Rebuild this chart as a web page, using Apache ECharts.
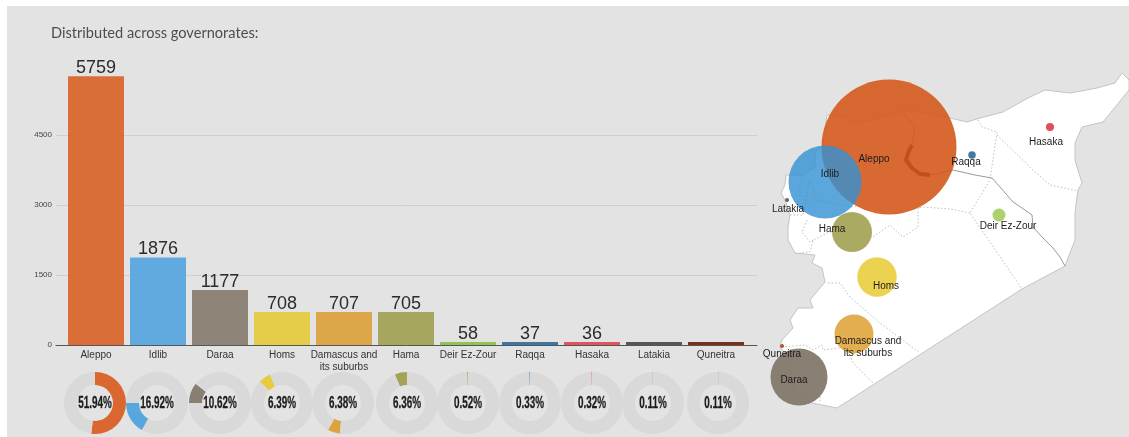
<!DOCTYPE html>
<html><head><meta charset="utf-8">
<style>html,body{margin:0;padding:0;background:#fff}#c{width:1129px;height:437px}</style>
<script src="https://cdn.jsdelivr.net/npm/echarts@6/dist/echarts.min.js"></script>
</head><body><div id="c"></div>
<script>
const categories = ['Aleppo','Idlib','Daraa','Homs','Damascus and\nits suburbs','Hama','Deir Ez-Zour','Raqqa','Hasaka','Latakia','Quneitra'];
const barValues = [5759,1876,1177,708,707,705,58,37,36,12,12];
const barLabelShown = [1,1,1,1,1,1,1,1,1,0,0];
const shares = [51.94,16.92,10.62,6.39,6.38,6.36,0.52,0.33,0.32,0.11,0.11];
const yTicks = {min:0,max:6000,interval:1500};
const colors = ['#d9672f','#58a6de','#897e72','#e6cb40','#dca340','#a3a257','#8fc04a','#356f9e','#de4c58','#4f4f4f','#74260f'];
const sliceStartDeg = [0,209,270,314,186,337,358,358.8,359,359,360];
const donutX = [95,157,220,282,343,407,468,530,592,653,718];
const donutY = 403;

// map, in picture-sized map units
const syriaOutline = [[786,175],[785,185],[781,193],[785,200],[790,215],[788,227],[788,240],[795,253],[815,255],[812,263],[822,268],[825,282],[810,300],[813,308],[798,308],[790,320],[793,328],[782,340],[780,347],[790,360],[793,390],[812,403],[837,408],[1022,289],[1065,266],[1075,240],[1075,213],[1078,190],[1082,183],[1078,170],[1075,160],[1075,143],[1082,127],[1103,122],[1129,90],[1129,80],[1122,73],[1115,83],[1097,88],[1070,93],[1045,90],[1028,98],[1003,112],[980,118],[967,122],[950,118],[937,115],[907,110],[873,120],[850,124],[847,117],[827,115],[823,145],[815,153],[815,167],[803,175]];
const euphrates = [[903,113],[915,127],[912,143],[905,160],[917,172],[932,175],[953,170],[975,175],[992,178],[1000,187],[1013,202],[1022,208],[1032,215],[1033,227],[1043,238],[1053,248],[1060,257],[1065,266]];
const assadLake = [[912,145],[908,153],[906,160],[912,168],[920,174],[930,175]];
const borderA = [[978,120],[982,127],[997,132],[990,180],[970,213],[1022,289]];
const borderB = [[997,135],[1033,170],[1050,185],[1078,191]];
const borderC = [[970,213],[950,209],[923,207],[918,208],[918,227],[903,237],[890,225],[873,237],[850,240],[830,232],[813,240],[810,252],[800,253]];
const borderD = [[807,220],[802,232],[810,242],[813,240]];
const borderE = [[828,283],[840,283],[850,297],[880,323],[920,353]];
const borderF = [[790,215],[803,215],[810,180],[817,200],[837,205],[853,207],[880,203],[903,193],[907,182],[912,172]];
const borderG = [[782,347],[805,345],[813,350],[822,345],[823,350],[847,347],[853,363],[873,383]];
const borderH = [[812,367],[822,362],[820,403]];
const borderI = [[937,123],[935,137],[913,147]];
const borderJ = [[903,193],[920,208]];
const borderK = [[803,175],[799,190],[805,200],[817,200]];
const internalBorders = [borderA,borderB,borderC,borderD,borderE,borderF,borderG,borderH,borderI,borderJ,borderK];

const bubbleNames = ['Aleppo','Idlib','Hama','Homs','Damascus and\nits suburbs','Daraa','Raqqa','Hasaka','Deir Ez-Zour','Latakia','Quneitra'];
const bubbleX = [889,825,852,877,854,799,972,1050,999,787,782];
const bubbleY = [147,182,232,277,334,377,155,127,215,200,346];
const bubbleDiameter = [135,73,40,39.5,39,57,7.5,8,13,4,4];
const bubbleColor = ['rgba(213,89,28,.9)','rgba(50,145,211,.8)','rgba(169,168,95,.98)','rgba(235,210,78,.98)','rgba(226,172,76,.98)','rgba(132,120,108,.95)','#44799f','#df4f5a','#add26c','#666','#a9593a'];
const labelX = [874,830,832,886,868,794,966,1046,1008,788,782];
const labelY = [159,174,229,286,347,380,162,142,226,209,354];

const chart = echarts.init(document.getElementById('c'), null, {renderer:'canvas'});
const fontSans = '"Liberation Sans",Arial,sans-serif';

const series = [
 {type:'bar',xAxisIndex:1,yAxisIndex:1,barWidth:56,barMinHeight:3,z:3,
  data:barValues.map((v,i)=>({value:v,itemStyle:{color:colors[i],opacity:.95},
    label:{show:!!barLabelShown[i]}})),
  label:{position:'top',distance:-1,fontFamily:fontSans,fontSize:18,color:'#222'}},
 {type:'custom',xAxisIndex:2,yAxisIndex:2,z:1,silent:true,clip:false,data:[0],
  renderItem:(p,api)=>({type:'polygon',shape:{points:syriaOutline.map(c=>api.coord(c))},
    style:{fill:'#fff',stroke:'#c4c4c4',lineWidth:1}})},
 {type:'line',xAxisIndex:2,yAxisIndex:2,z:2,symbol:'none',silent:true,data:euphrates,
  lineStyle:{color:'#9a9a9a',width:1}},
 {type:'line',xAxisIndex:2,yAxisIndex:2,z:2,symbol:'none',silent:true,data:assadLake,
  lineStyle:{color:'#111',width:4}},
 ...internalBorders.map(b=>({type:'line',xAxisIndex:2,yAxisIndex:2,z:2,symbol:'none',silent:true,data:b,
  lineStyle:{color:'#adadad',width:.8,type:[1.5,2]}})),
 {type:'scatter',xAxisIndex:2,yAxisIndex:2,z:4,silent:true,
  data:bubbleNames.map((n,i)=>({name:n,value:[bubbleX[i],bubbleY[i]],symbolSize:bubbleDiameter[i],itemStyle:{color:bubbleColor[i],opacity:1}}))},
 {type:'scatter',xAxisIndex:2,yAxisIndex:2,z:5,silent:true,symbolSize:1,itemStyle:{color:'rgba(0,0,0,0)',opacity:1},
  label:{show:true,position:'inside',formatter:'{b}',fontFamily:fontSans,fontSize:10,lineHeight:12,color:'#1c1c1c',align:'center',verticalAlign:'middle'},
  data:bubbleNames.map((n,i)=>({name:n,value:[labelX[i],labelY[i]]}))},
 ...shares.map((s,i)=>({type:'pie',center:[donutX[i],donutY],radius:[18,31],startAngle:90-sliceStartDeg[i],clockwise:true,
  silent:true,animation:false,z:3,avoidLabelOverlap:false,labelLine:{show:false},label:{show:false},
  data:[
   {value:s,itemStyle:{color:colors[i],borderColor:colors[i],borderWidth:s<1?.5:0,opacity:s<1?.7:1}},
   {value:100-s,itemStyle:{color:'#d9d9d9'}}
  ]})),
 {type:'custom',xAxisIndex:2,yAxisIndex:2,z:6,silent:true,clip:false,
  data:shares.map((s,i)=>[donutX[i],donutY,s]),
  renderItem:(p,api)=>{const c=api.coord([api.value(0),api.value(1)]);
   return {type:'text',x:c[0],y:c[1],scaleX:.6,
    style:{text:api.value(2).toFixed(2)+'%',font:'bold 16.5px "Liberation Sans",sans-serif',fill:'#1c1c1c',stroke:'#1c1c1c',lineWidth:.3,textAlign:'center',textVerticalAlign:'middle'}};}}
];

chart.setOption({
 animation:false,
 backgroundColor:'#fff',
 title:{text:'Distributed across governorates:',left:46,top:21,textStyle:{fontFamily:'Lato,"Open Sans",sans-serif',fontWeight:'normal',fontSize:14.6,color:'#4d4d4d'}},
 graphic:[{type:'rect',z:-100,silent:true,shape:{x:7,y:6,width:1122,height:431},style:{fill:'#e3e3e3'}}],
 grid:[
  {left:56,top:65,width:701,height:280},
  {left:65,top:65,width:682,height:280},
  {left:0,top:0,width:1129,height:437}
 ],
 xAxis:[
  {gridIndex:0,type:'value',min:0,max:1,axisLabel:{show:false},axisTick:{show:false},splitLine:{show:false},
   axisLine:{show:true,lineStyle:{color:'#555',width:1}}},
  {gridIndex:1,type:'category',data:categories,axisLine:{show:false},axisTick:{show:false},
   axisLabel:{interval:0,margin:4,fontFamily:fontSans,fontSize:10,lineHeight:12,color:'#333'}},
  {gridIndex:2,type:'value',min:0,max:1129,show:false}
 ],
 yAxis:[
  {gridIndex:0,type:'value',min:yTicks.min,max:yTicks.max,interval:yTicks.interval,axisLine:{show:false},axisTick:{show:false},
   axisLabel:{margin:4,showMaxLabel:false,formatter:v=>String(v),fontFamily:fontSans,fontSize:8,color:'#444'},
   splitLine:{show:true,showMaxLine:false,showMinLine:false,lineStyle:{color:'#cfcfcf',width:1}}},
  {gridIndex:1,type:'value',min:yTicks.min,max:yTicks.max,show:false},
  {gridIndex:2,type:'value',min:0,max:437,inverse:true,show:false}
 ],
 series
});
</script></body></html>
